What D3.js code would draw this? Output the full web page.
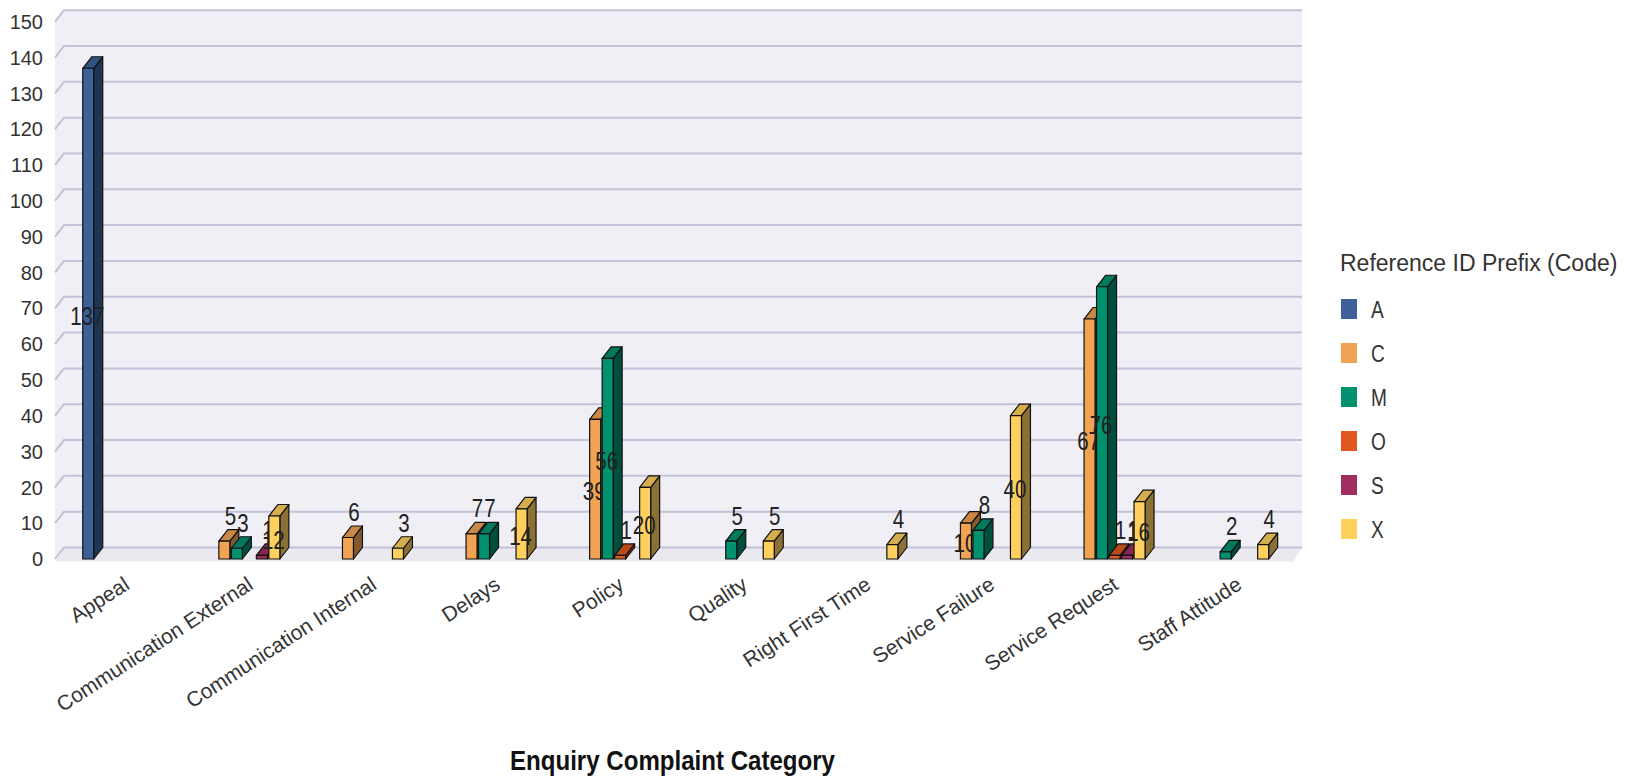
<!DOCTYPE html>
<html><head><meta charset="utf-8">
<script src="https://cdn.jsdelivr.net/npm/d3@7"></script>
<style>body{margin:0;background:#fff;} svg{display:block}</style>
</head><body>
<svg id="chart" width="1631" height="779"></svg>
<script>
// ---------- DATA ----------
const categories = ["Appeal","Communication External","Communication Internal","Delays","Policy","Quality","Right First Time","Service Failure","Service Request","Staff Attitude"];
const seriesNames = ["A","C","M","O","S","X"];
const seriesColors = ["#3B6198","#F0A352","#00916E","#E0581E","#A02D60","#FFD05E"];
const valuesA = [137,0,0,0,0,0,0,0,0,0];
const valuesC = [0,5,6,7,39,0,0,10,67,0];
const valuesM = [0,3,0,7,56,5,0,8,76,2];
const valuesO = [0,0,0,0,1,0,0,0,1,0];
const valuesS = [0,1,0,0,0,0,0,0,1,0];
const valuesX = [0,12,3,14,20,5,4,40,16,4];
const yTicks = [0,10,20,30,40,50,60,70,80,90,100,110,120,130,140,150];
const xTitle = "Enquiry Complaint Category";
const legendTitle = "Reference ID Prefix (Code)";

const seriesValues = [valuesA, valuesC, valuesM, valuesO, valuesS, valuesX];

// ---------- LAYOUT ----------
const svg = d3.select("#chart");
const DX = 9, DY = -11.5;
const FRONT_L = 55, FRONT_R = 1293;
const x0 = d3.scaleBand().domain(categories).range([57, FRONT_R]);
const x1 = d3.scaleBand().domain(seriesNames).range([25, 100]).paddingInner(0.12).paddingOuter(0.06);
const y = d3.scaleLinear().domain([0, 150]).range([559, 21.7]);
const color = d3.scaleOrdinal().domain(seriesNames).range(seriesColors);
const FONT = "'Liberation Sans', Arial, sans-serif";

function condense(sel, factor) {
  sel.each(function() {
    const len = this.getComputedTextLength();
    d3.select(this).attr("textLength", len * factor).attr("lengthAdjust", "spacingAndGlyphs");
  });
}

// walls
const y0 = y(0), yTop = y(150);
svg.append("polygon") // floor
  .attr("points", [[FRONT_L, y0 + 2.5], [FRONT_L + DX, y0 + DY], [FRONT_R + DX, y0 + DY], [FRONT_R, y0 + 2.5]].join(" "))
  .attr("fill", "#E9E9EF");
svg.append("rect") // back wall
  .attr("x", FRONT_L + DX).attr("y", yTop + DY)
  .attr("width", FRONT_R - FRONT_L).attr("height", y0 - yTop)
  .attr("fill", "#EFEFF5");
svg.append("polygon") // left wall
  .attr("points", [[FRONT_L, y0], [FRONT_L + DX, y0 + DY], [FRONT_L + DX, yTop + DY], [FRONT_L, yTop]].join(" "))
  .attr("fill", "#EFEFF5");

// gridlines
svg.append("g").selectAll("path").data(yTicks).join("path")
  .attr("d", v => `M${FRONT_L},${y(v)}L${FRONT_L + DX},${y(v) + DY}L${FRONT_R + DX},${y(v) + DY}`)
  .attr("fill", "none").attr("stroke", "#C2C2D8").attr("stroke-width", 2);

// y tick labels
svg.append("g").selectAll("text").data(yTicks).join("text")
  .attr("x", 43).attr("y", v => y(v)).attr("dy", "0.36em")
  .attr("text-anchor", "end")
  .attr("font-family", FONT).attr("font-size", 20).attr("fill", "#333")
  .text(d => d);

// bars
const barsG = svg.append("g");
const w = x1.bandwidth();
categories.forEach((cat, i) => {
  seriesNames.forEach((s, j) => {
    const v = seriesValues[j][i];
    if (!v) return;
    const x = x0(cat) + x1(s);
    const yt = y(v), yb = y(0);
    const c = d3.color(color(s));
    const g = barsG.append("g").attr("stroke", "#111").attr("stroke-width", 1.2).attr("stroke-linejoin", "round");
    g.append("polygon")
      .attr("points", [[x + w, yt], [x + w + DX, yt + DY], [x + w + DX, yb + DY], [x + w, yb]].join(" "))
      .attr("fill", c.darker(1.7));
    g.append("polygon")
      .attr("points", [[x, yt], [x + DX, yt + DY], [x + w + DX, yt + DY], [x + w, yt]].join(" "))
      .attr("fill", c.darker(0.5));
    g.append("rect").attr("x", x).attr("y", yt).attr("width", w).attr("height", yb - yt)
      .attr("fill", c);
    const inside = v >= 10;
    const t = barsG.append("text")
      .attr("x", inside ? x + w / 2 - 1 : x + w / 2 + 6)
      .attr("y", inside ? (yt + yb) / 2 + 2 : yt + DY - 5)
      .attr("dy", inside ? "0.36em" : 0)
      .attr("text-anchor", "middle")
      .attr("font-family", FONT).attr("font-size", 25).attr("fill", "#222")
      .text(v);
    condense(t, 0.82);
  });
});

// x labels
svg.append("g").selectAll("text").data(categories).join("text")
  .attr("transform", d => `translate(${x0(d) + x0.bandwidth() / 2 + 12},588) rotate(-33)`)
  .attr("text-anchor", "end")
  .attr("font-family", FONT).attr("font-size", 21).attr("fill", "#333")
  .text(d => d);

// x title
svg.append("text")
  .attr("x", 672.5).attr("y", 770).attr("text-anchor", "middle")
  .attr("font-family", FONT).attr("font-weight", "bold").attr("font-size", 27).attr("fill", "#111")
  .attr("textLength", 325).attr("lengthAdjust", "spacingAndGlyphs")
  .text(xTitle);

// legend
const lg = svg.append("g");
lg.append("text").attr("x", 1340).attr("y", 270.5)
  .attr("font-family", FONT).attr("font-size", 23).attr("fill", "#333")
  .text(legendTitle);
const items = lg.selectAll("g.item").data(seriesNames).join("g")
  .attr("transform", (d, i) => `translate(1341,${299 + i * 44})`);
items.append("rect").attr("width", 16).attr("height", 20).attr("fill", d => color(d));
const lt = items.append("text").attr("x", 30).attr("y", 19)
  .attr("font-family", FONT).attr("font-size", 23).attr("fill", "#333")
  .text(d => d);
condense(lt, 0.83);
</script>
</body></html>
